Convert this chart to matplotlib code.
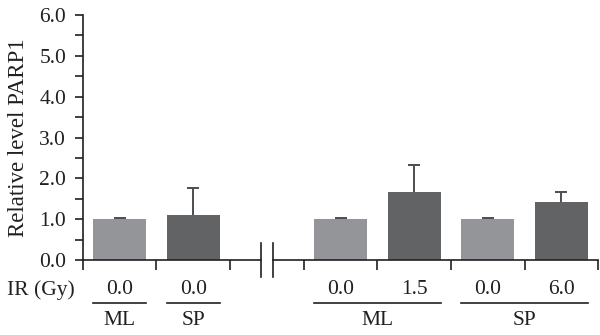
import matplotlib
matplotlib.use("Agg")
import matplotlib.pyplot as plt
import matplotlib.transforms as mtransforms

plt.rcParams['font.family'] = ['Liberation Serif', 'DejaVu Serif']

# Bar data
positions = [0.5, 1.5, 3.5, 4.5, 5.5, 6.5]
values = [1.00, 1.10, 1.00, 1.67, 1.00, 1.43]
errors = [0.02, 0.66, 0.02, 0.66, 0.02, 0.24]
dose_labels = ["0.0", "0.0", "0.0", "1.5", "0.0", "6.0"]
is_control = [True, False, True, False, True, False]

# Group labels below the dose row: (label, first bar index, last bar index)
groups = [("ML", 0, 0), ("SP", 1, 1), ("ML", 2, 3), ("SP", 4, 5)]

light = "#939598"
dark = "#626365"
ink = "#231f20"
err_col = "#4d4d4f"

fs = 15.5

fig = plt.figure(figsize=(6.0, 3.35), dpi=100)
ax = fig.add_axes([0.138, 0.224, 0.859, 0.731])

bar_w = 0.72
colors = [light if c else dark for c in is_control]
ax.bar(positions, values, width=bar_w, color=colors, edgecolor="none", zorder=2)

# One-sided (upward) error bars with a cap on top
tops = [v + e for v, e in zip(values, errors)]
ax.vlines(positions, values, tops, color=err_col, lw=1.4, zorder=3)
ax.plot(positions, tops, linestyle="none", marker="_", markersize=8,
        markeredgewidth=1.4, color=err_col, zorder=3)

ax.set_xlim(0, 7)
ax.set_ylim(0, 6)
ax.set_yticks([i * 0.5 for i in range(13)])
ax.set_yticklabels([f"{i * 0.5:.1f}" if i % 2 == 0 else "" for i in range(13)])
ax.set_xticks([0, 1, 2, 3, 4, 5, 6, 7])
ax.set_xticklabels([])

for side in ("top", "right", "bottom"):
    ax.spines[side].set_visible(False)
ax.spines["left"].set_color(ink)
ax.spines["left"].set_linewidth(1.2)
ax.tick_params(axis="y", direction="out", length=6, width=1.2, colors=ink,
               labelsize=fs, pad=6)
ax.tick_params(axis="x", direction="out", length=7, width=1.2, colors=ink)
ax.set_ylabel("Relative level PARP1", fontsize=16.5, color=ink, labelpad=7)

# Broken x axis baseline with break marks
brk_left, brk_right = 2.42, 2.58
ax.plot([0, brk_left], [0, 0], color=ink, lw=1.2, clip_on=False, zorder=4)
ax.plot([brk_right, 7], [0, 0], color=ink, lw=1.2, clip_on=False, zorder=4)
trans = mtransforms.blended_transform_factory(ax.transData, ax.transAxes)
for xb in (brk_left, brk_right):
    ax.plot([xb, xb], [0.07, -0.068], color=ink, lw=1.2, transform=trans,
            clip_on=False, zorder=4)

# Dose row, underlines, and group labels
for x, lab in zip(positions, dose_labels):
    ax.text(x, -0.122, lab, transform=trans, ha="center", va="center",
            fontsize=fs, color=ink)
for name, i0, i1 in groups:
    x0 = positions[i0] - bar_w / 2
    x1 = positions[i1] + bar_w / 2
    ax.plot([x0, x1], [-0.176, -0.176], color=ink, lw=1.2, transform=trans,
            clip_on=False)
    ax.text((positions[i0] + positions[i1]) / 2, -0.248, name, transform=trans,
            ha="center", va="center", fontsize=fs, color=ink)

fig.text(0.068, 1 - 290 / 335, "IR (Gy)", ha="center", va="center",
         fontsize=fs, color=ink)

fig.savefig("out.png", dpi=100)
